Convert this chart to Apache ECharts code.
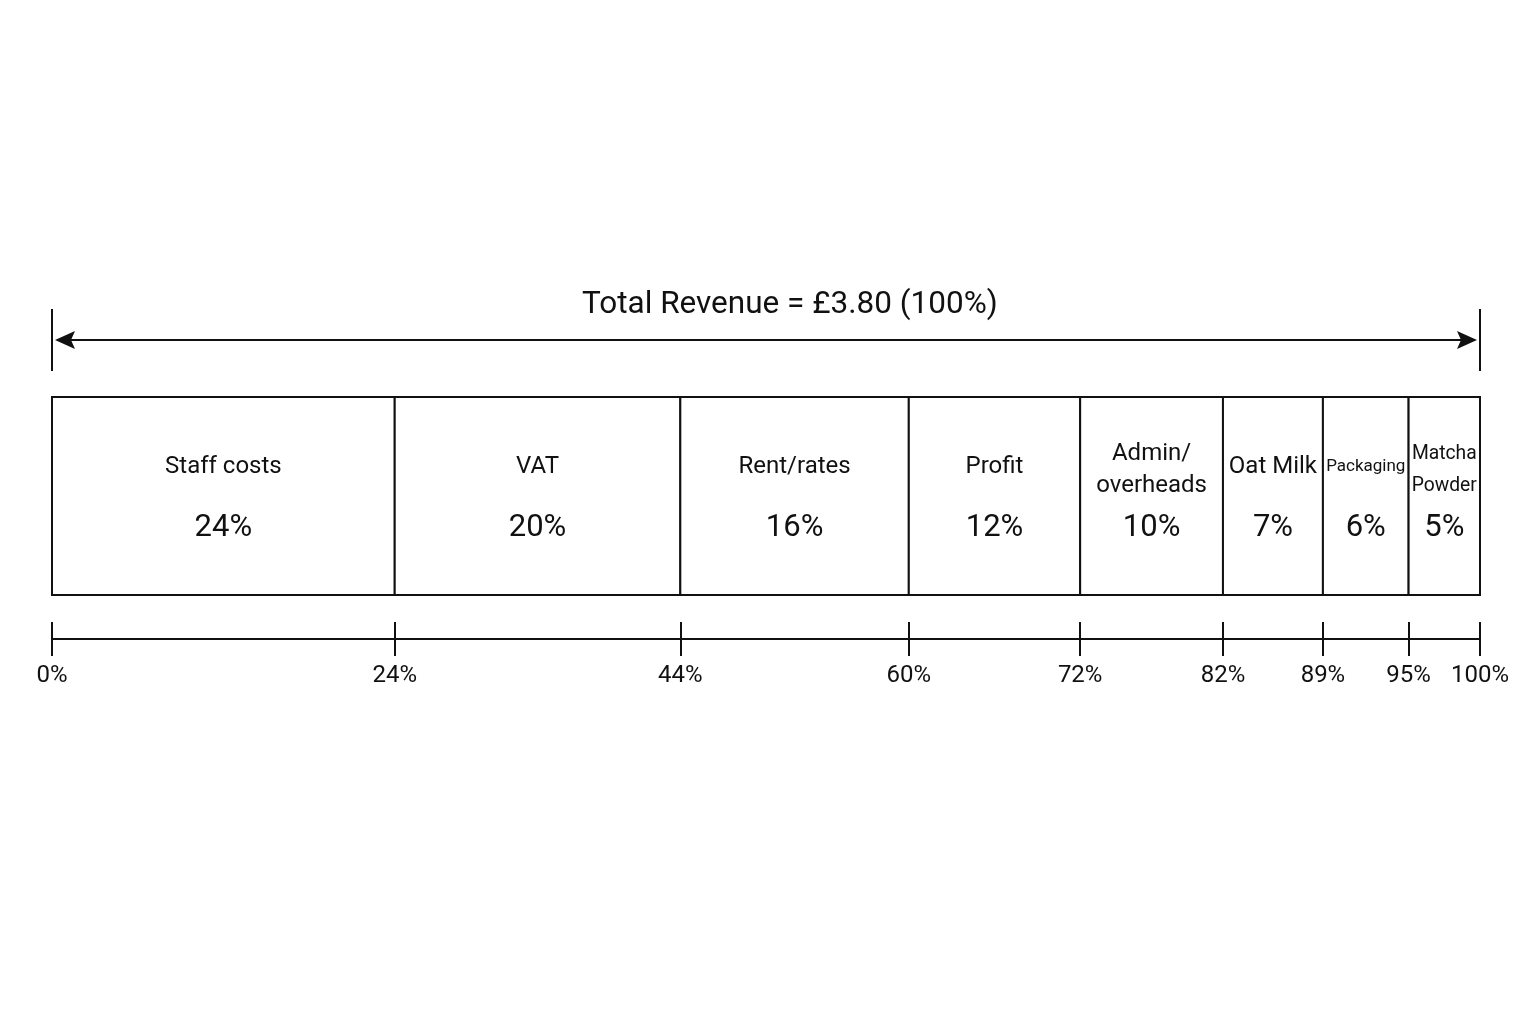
<!DOCTYPE html>
<html>
<head>
<meta charset="utf-8">
<script src="https://cdn.jsdelivr.net/npm/echarts@6/dist/echarts.min.js"></script>
<style>
html,body{margin:0;padding:0;background:#fff;}
#chart{width:1536px;height:1024px;}
</style>
</head>
<body>
<div id="chart"></div>
<script>
// ---- data ----
const categories = ['Staff costs', 'VAT', 'Rent/rates', 'Profit', 'Admin/\noverheads', 'Oat Milk', 'Packaging', 'Matcha\nPowder'];
const shares = [24, 20, 16, 12, 10, 7, 6, 5];
const tickValues = [0, 24, 44, 60, 72, 82, 89, 95, 100];
const tickLabels = ['0%', '24%', '44%', '60%', '72%', '82%', '89%', '95%', '100%'];
const totalLabel = 'Total Revenue = £3.80 (100%)';

// ---- build segments ----
const segments = [];
let acc = 0;
shares.forEach((v, i) => { segments.push([acc, acc + v, i]); acc += v; });

const FONT = 'Roboto, "Noto Sans", sans-serif';
const INK = '#111';
const measureCtx = document.createElement('canvas').getContext('2d');
function textWidth(t, size) {
  measureCtx.font = size + 'px ' + FONT;
  return Math.max(...t.split('\n').map(l => measureCtx.measureText(l).width));
}

function renderSegment(params, api) {
  const s = api.value(0), e = api.value(1), idx = api.value(2);
  const p0 = api.coord([s, 1]);
  const p1 = api.coord([e, 0]);
  const w = p1[0] - p0[0], h = p1[1] - p0[1];
  const cx = p0[0] + w / 2;
  const name = categories[idx];
  const avail = w - 6;
  let nameSize = 24;
  const nw = textWidth(name, nameSize);
  if (nw > avail) nameSize = Math.floor(nameSize * avail / nw * 10) / 10;
  let pctSize = 31;
  const pctText = shares[idx] + '%';
  const pw = textWidth(pctText, pctSize);
  if (pw > avail) pctSize = pctSize * avail / pw;
  const twoLine = name.indexOf('\n') >= 0;
  return {
    type: 'group',
    children: [
      {
        type: 'rect',
        shape: { x: p0[0], y: p0[1], width: w, height: h },
        style: { fill: '#fff', stroke: INK, lineWidth: 2 }
      },
      {
        type: 'text',
        style: {
          text: name, x: cx, y: p0[1] + (twoLine ? 73 : 70),
          align: 'center', verticalAlign: 'middle',
          fontSize: nameSize, fontFamily: FONT, lineHeight: 32, fill: INK
        }
      },
      {
        type: 'text',
        style: {
          text: pctText, x: cx, y: p0[1] + 131,
          align: 'center', verticalAlign: 'middle',
          fontSize: pctSize, fontFamily: FONT, fill: INK
        }
      }
    ]
  };
}

function renderSpan(params, api) {
  const a = api.coord([api.value(0), 1]);
  const b = api.coord([api.value(1), 1]);
  const y = a[1] - 57;
  const lineStyle = { stroke: INK, lineWidth: 2 };
  return {
    type: 'group',
    children: [
      { type: 'line', shape: { x1: a[0], y1: y - 31, x2: a[0], y2: y + 31 }, style: lineStyle },
      { type: 'line', shape: { x1: b[0], y1: y - 31, x2: b[0], y2: y + 31 }, style: lineStyle },
      { type: 'line', shape: { x1: a[0] + 8, y1: y, x2: b[0] - 8, y2: y }, style: lineStyle },
      { type: 'polygon', shape: { points: [[a[0] + 3, y], [a[0] + 23, y - 9], [a[0] + 19, y], [a[0] + 23, y + 9]] }, style: { fill: INK } },
      { type: 'polygon', shape: { points: [[b[0] - 3, y], [b[0] - 23, y - 9], [b[0] - 19, y], [b[0] - 23, y + 9]] }, style: { fill: INK } }
    ]
  };
}

const chart = echarts.init(document.getElementById('chart'), null, { renderer: 'canvas' });
chart.setOption({
  backgroundColor: '#fff',
  animation: false,
  title: {
    text: totalLabel,
    left: 582, top: 289, padding: 0,
    textStyle: { fontFamily: FONT, fontSize: 31.5, fontWeight: 'normal', color: INK }
  },
  grid: { left: 52, right: 56, top: 397, height: 198 },
  xAxis: [
    { type: 'value', min: 0, max: 100, show: false },
    {
      type: 'value', min: 0, max: 100, position: 'bottom', offset: 44,
      axisLine: { show: true, lineStyle: { color: INK, width: 2 } },
      axisTick: { show: true, length: 17, customValues: tickValues, lineStyle: { color: INK, width: 2 } },
      axisLabel: {
        show: true, margin: 25, customValues: tickValues,
        formatter: v => tickLabels[tickValues.indexOf(v)],
        fontFamily: FONT, fontSize: 24, color: INK
      },
      splitLine: { show: false }
    },
    {
      type: 'value', min: 0, max: 100, position: 'bottom', offset: 44,
      axisLine: { show: false },
      axisTick: { show: true, inside: true, length: 17, customValues: tickValues, lineStyle: { color: INK, width: 2 } },
      axisLabel: { show: false },
      splitLine: { show: false }
    }
  ],
  yAxis: { type: 'value', min: 0, max: 1, show: false },
  series: [
    {
      type: 'custom', name: 'segments', xAxisIndex: 0, yAxisIndex: 0,
      renderItem: renderSegment, clip: false,
      encode: { x: [0, 1] },
      data: segments
    },
    {
      type: 'custom', name: 'span', xAxisIndex: 0, yAxisIndex: 0,
      renderItem: renderSpan, clip: false,
      encode: { x: [0, 1] },
      data: [[0, acc]]
    }
  ]
});
</script>
</body>
</html>
